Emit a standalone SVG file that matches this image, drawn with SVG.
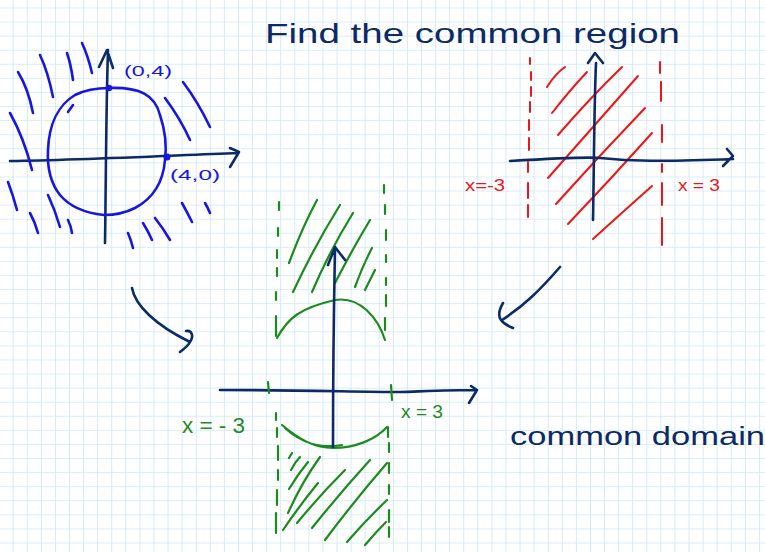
<svg xmlns="http://www.w3.org/2000/svg" width="765" height="552" viewBox="0 0 765 552">
<defs>
<pattern id="grid" x="12.7" y="7.5" width="14.08" height="14.08" patternUnits="userSpaceOnUse">
<path d="M0,0 H14.08 M0,0 V14.08" stroke="#cce6f8" stroke-width="1.6" fill="none"/>
</pattern>
<style>
.ax{fill:none;stroke:#0c2a66;stroke-width:2.6;stroke-linecap:round;stroke-linejoin:round}
.bl{fill:none;stroke:#1616e0;stroke-width:2.6;stroke-linecap:round;stroke-linejoin:round}
.rd{fill:none;stroke:#ee1515;stroke-width:2;stroke-linecap:round}
.gr{fill:none;stroke:#1e8a1e;stroke-width:2.2;stroke-linecap:round;stroke-linejoin:round}
.t{font-family:"Liberation Sans",Arial,sans-serif}
</style>
</defs>
<rect width="765" height="552" fill="#ffffff"/>
<rect width="765" height="552" fill="url(#grid)"/>

<g id="title">
<text class="t" x="265" y="43" font-size="28" fill="#0c2a66" textLength="415" lengthAdjust="spacingAndGlyphs">Find the common region</text>
</g>

<g id="circle-graph">
<path class="ax" d="M10,161 C80,160 160,156 238,153 M230,148 L239,152 L230,167"/>
<path class="ax" d="M105,243 C106,180 106,110 108,50 M99,67 L107,50 L113,68"/>
<path class="bl" d="M109,88 C140,87 155,95 160,115 C165,130 167,145 165,160 C163,185 150,200 135,208 C125,213 112,215 104,215 C85,213 70,207 60,195 C52,185 47,170 48,150 C49,125 58,105 75,95 C85,90 95,88 109,88 M68,112 L73,105"/>
<circle cx="109" cy="88" r="3.2" fill="#1616e0"/>
<circle cx="167" cy="157" r="3.5" fill="#1616e0"/>
<path class="bl" d="M18,72 Q28,88 33,113 M40,55 Q48,72 53,97 M67,53 Q71,65 73,80 M82,43 Q88,56 92,73 M10,113 Q24,138 32,170 M183,82 Q198,102 210,127 M165,98 Q180,118 190,140 M8,182 Q13,195 17,210 M30,213 Q35,222 38,233 M48,195 Q55,210 60,227 M68,220 Q71,226 72,233 M128,233 Q131,240 133,248 M143,223 Q148,231 152,240 M155,218 Q163,228 170,240 M182,203 Q187,212 192,222 M205,203 Q208,208 210,213"/>
<text class="t" x="124" y="76" font-size="14" fill="#1616e0" textLength="48" lengthAdjust="spacingAndGlyphs">(0,4)</text>
<text class="t" x="170" y="180" font-size="15" fill="#1616e0" textLength="50" lengthAdjust="spacingAndGlyphs">(4,0)</text>
</g>

<g id="strip-graph">
<path class="rd" d="M530,58 V64 M531,72 V80 M531,87 V96 M530,102 V112 M529,120 V130 M529,138 V150 M528,162 V172 M528,183 V198 M528,205 V217" stroke-width="1.8"/>
<path class="rd" d="M660,62 V73 M661,82 V101 M662,125 V142 M662,164 V172 M662,183 V205 M662,218 V245" stroke-width="2"/>
<path class="rd" d="M547,87 Q555,74 565,67 M552,113 Q570,90 587,72 M558,135 Q590,98 622,67 M548,178 Q595,125 638,76 M556,204 Q600,155 645,108 M568,224 Q610,180 652,133 M593,239 Q625,210 652,186"/>
<path class="ax" d="M510,161 C560,158 590,157 600,158 C630,161 660,162 733,159 M727,149 L733,156 L723,166"/>
<path class="ax" d="M593,220 C594,170 594,110 596,63 M588,63 L595,53 L603,63"/>
<text class="t" x="465" y="191" font-size="16" fill="#ee1515" textLength="40" lengthAdjust="spacingAndGlyphs">x=-3</text>
<text class="t" x="678" y="191" font-size="16" fill="#ee1515" textLength="42" lengthAdjust="spacingAndGlyphs">x = 3</text>
</g>

<g id="result-graph">
<path class="gr" d="M279,202 V210 M278,228 V236 M277,250 V258 M277,268 V276 M276,292 V300 M276,316 V336 M276,413 V420 M277,428 V437 M278,446 V460 M278,470 V480 M277,490 V505 M276,513 V533" stroke-width="1.8"/>
<path class="gr" d="M384,185 V193 M385,205 V214 M386,230 V240 M386,255 V262 M386,278 V285 M386,295 V306 M385,318 V330 M388,427 V437 M389,443 V452 M389,463 V473 M389,485 V494 M389,510 V522 M389,527 V537" stroke-width="1.8"/>
<path class="gr" d="M289,263 Q302,228 317,200 M293,292 Q315,245 340,205 M312,292 Q330,250 353,213 M335,283 Q352,250 370,220 M355,287 Q363,265 372,248 M365,290 Q370,280 375,270"/>
<path class="gr" d="M289,458 L292,453 M291,470 Q295,462 300,457 M289,489 Q298,474 308,462 M288,513 Q302,482 320,457 M297,523 Q320,495 345,470 M312,528 Q340,493 370,460 M325,540 Q355,500 387,463 M347,542 Q366,520 387,500 M365,545 Q376,532 386,522 M283,530 Q300,505 318,483"/>
<path class="gr" d="M277,338 C288,318 300,308 335,300 C360,296 378,318 385,340" stroke-width="2.6"/>
<path class="gr" d="M282,425 C300,440 315,448 333,448 C355,448 375,440 387,427 M285,428 C300,442 320,449 342,445" stroke-width="2.4"/>
<path class="ax" d="M220,390 C300,390 360,392 400,392 C430,391 450,390 477,390 M471,386 L477,390 L469,403"/>
<path class="ax" d="M333,447 C333,380 334,300 335,248 M328,265 L335,247 L345,260"/>
<path class="gr" d="M268,382 L269,393 M391,385 L392,400" stroke="#1e8a1e"/>
<text class="t" x="182" y="433" font-size="22" fill="#1e8a1e" textLength="63" lengthAdjust="spacingAndGlyphs">x = - 3</text>
<text class="t" x="401" y="418" font-size="18" fill="#1e8a1e" textLength="42" lengthAdjust="spacingAndGlyphs">x = 3</text>
</g>

<g id="connectors">
<path class="ax" d="M132,288 C135,305 155,325 190,342 M186,331 C192,330 194,336 190,342 C188,346 184,349 180,352"/>
<path class="ax" d="M560,267 C540,290 525,305 502,320 M503,303 C499,310 498,316 501,320 C504,324 508,326 513,328"/>
</g>

<g id="caption">
<text class="t" x="510" y="445" font-size="26" fill="#0c2a66" textLength="255" lengthAdjust="spacingAndGlyphs">common domain</text>
</g>
</svg>
